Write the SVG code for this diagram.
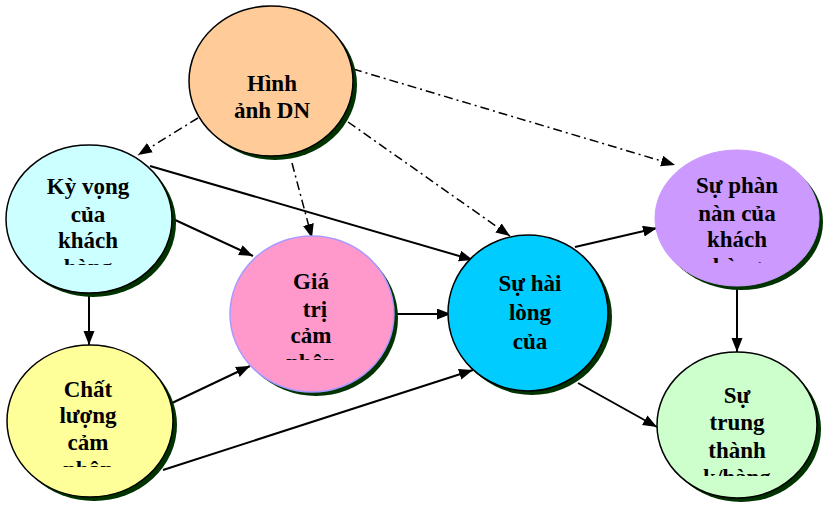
<svg xmlns="http://www.w3.org/2000/svg" width="823" height="508" viewBox="0 0 823 508">
<style>
.sh{fill:#003300;}
.c{stroke:#000;stroke-width:1.5;}
.t{font-family:"Liberation Serif","Times New Roman",serif;font-weight:bold;font-size:23px;fill:#000;text-anchor:middle;}
.s{stroke:#000;stroke-width:2;fill:none;marker-end:url(#ah);}
.d{stroke:#000;stroke-width:1.5;fill:none;stroke-dasharray:9 4 2 4;marker-end:url(#ah);}
</style>
<defs>
<marker id="ah" markerUnits="userSpaceOnUse" markerWidth="15" markerHeight="12" refX="14" refY="5.5" orient="auto">
<path d="M0,0 L14,5.5 L0,11 z" fill="#000"/>
</marker>
<clipPath id="cKV"><rect x="0" y="140" width="180" height="125"/></clipPath>
<clipPath id="cCL"><rect x="0" y="340" width="180" height="127"/></clipPath>
<clipPath id="cGT"><rect x="225" y="230" width="180" height="130"/></clipPath>
<clipPath id="cPN"><rect x="650" y="145" width="173" height="118"/></clipPath>
<clipPath id="cTT"><rect x="650" y="345" width="173" height="131"/></clipPath>
</defs>
<rect width="823" height="508" fill="#fff"/>
<g id="connectors">
<path class="d" d="M198,118 L138,155"/>
<path class="d" d="M292,163 L312,238"/>
<path class="d" d="M348,122 L510,236"/>
<path class="d" d="M353,69 L675,165"/>
<path class="s" d="M150,166 L473,260"/>
<path class="s" d="M173,219 L253,256"/>
<path class="s" d="M89,293 L89,345"/>
<path class="s" d="M172,403 L250,366"/>
<path class="s" d="M163,470 L473,370"/>
<path class="s" d="M396,314 L451,314"/>
<path class="s" d="M575,247 L657,228"/>
<path class="s" d="M578,383 L657,427"/>
<path class="s" d="M737,287 L737,352"/>
</g>
<g id="hinh-anh-dn">
<ellipse class="sh" cx="275" cy="85" rx="82" ry="75"/>
<ellipse class="c" cx="271" cy="81" rx="82" ry="75" fill="#ffcc99"/>
<text class="t" x="272" y="91">Hình</text>
<text class="t" x="272" y="118">ảnh DN</text>
</g>
<g id="ky-vong">
<ellipse class="sh" cx="93" cy="223" rx="83" ry="74"/>
<ellipse class="c" cx="89" cy="219" rx="83" ry="74" fill="#ccffff"/>
<g clip-path="url(#cKV)">
<text class="t" x="88" y="194">Kỳ vọng</text>
<text class="t" x="88" y="222">của</text>
<text class="t" x="88" y="248">khách</text>
<text class="t" x="88" y="275">hàng</text>
</g>
</g>
<g id="chat-luong">
<ellipse class="sh" cx="94" cy="425" rx="83" ry="76"/>
<ellipse class="c" cx="90" cy="421" rx="83" ry="76" fill="#ffff99"/>
<g clip-path="url(#cCL)">
<text class="t" x="88" y="397">Chất</text>
<text class="t" x="88" y="423">lượng</text>
<text class="t" x="88" y="450">cảm</text>
<text class="t" x="88" y="477">nhận</text>
</g>
</g>
<g id="gia-tri">
<ellipse class="sh" cx="316" cy="318" rx="82" ry="78"/>
<ellipse cx="312" cy="314" rx="82" ry="78" fill="#ff99cc" stroke="#aa99ff" stroke-width="1.5"/>
<g clip-path="url(#cGT)">
<text class="t" x="311" y="289">Giá</text>
<text class="t" x="315" y="317">trị</text>
<text class="t" x="311" y="343">cảm</text>
<text class="t" x="311" y="370">nhận</text>
</g>
</g>
<g id="su-hai-long">
<ellipse class="sh" cx="532" cy="317" rx="80" ry="78"/>
<ellipse class="c" cx="528" cy="313" rx="80" ry="78" fill="#00ccff"/>
<text class="t" x="530" y="291">Sự hài</text>
<text class="t" x="530" y="320">lòng</text>
<text class="t" x="530" y="349">của</text>
</g>
<g id="su-phan-nan">
<ellipse class="sh" cx="741" cy="222" rx="82" ry="68"/>
<ellipse cx="737" cy="218" rx="82" ry="68" fill="#cc99ff" stroke="#cc99ff" stroke-width="1"/>
<g clip-path="url(#cPN)">
<text class="t" x="737" y="193">Sự phàn</text>
<text class="t" x="737" y="221">nàn của</text>
<text class="t" x="737" y="247">khách</text>
<text class="t" x="737" y="274">hàng</text>
</g>
</g>
<g id="su-trung-thanh">
<ellipse class="sh" cx="741" cy="429" rx="80" ry="73"/>
<ellipse class="c" cx="737" cy="425" rx="80" ry="73" fill="#ccffcc"/>
<g clip-path="url(#cTT)">
<text class="t" x="737" y="403">Sự</text>
<text class="t" x="737" y="430">trung</text>
<text class="t" x="737" y="458">thành</text>
<text class="t" x="737" y="485">k/hàng</text>
</g>
</g>
</svg>
